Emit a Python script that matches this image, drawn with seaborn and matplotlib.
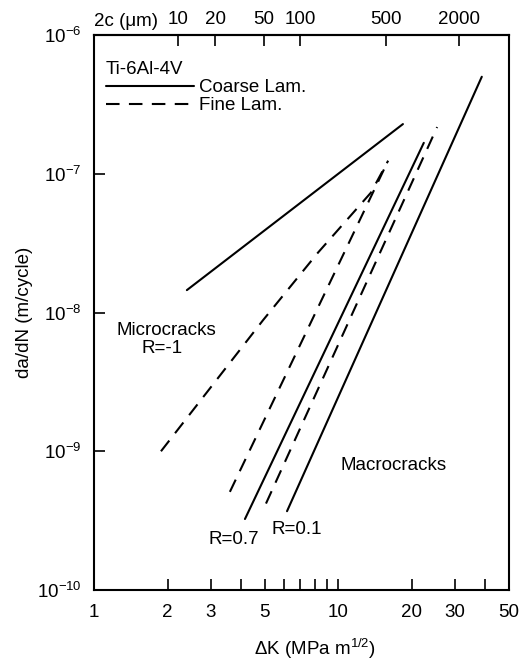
import numpy as np
import pandas as pd
import seaborn as sns
import matplotlib
matplotlib.use("Agg")
from matplotlib import pyplot as plt
from matplotlib.lines import Line2D
from matplotlib.ticker import FixedLocator, NullLocator, LogFormatterSciNotation

# crack growth curves, dK in MPa m^1/2, rate in m/cycle
coarse_micro_dk = [2.40, 18.4]
coarse_micro_rate = [1.45e-8, 2.28e-7]
fine_micro_dk = [1.88, 4.92, 8.26, 13.6, 16.0]
fine_micro_rate = [1.0e-9, 8.8e-9, 2.7e-8, 7.3e-8, 1.24e-7]

coarse_r07_dk = [4.15, 22.4]
coarse_r07_rate = [3.25e-10, 1.67e-7]
fine_r07_dk = [3.60, 16.0]
fine_r07_rate = [5.1e-10, 1.24e-7]

coarse_r01_dk = [6.17, 38.7]
coarse_r01_rate = [3.7e-10, 5.0e-7]
fine_r01_dk = [5.06, 25.4]
fine_r01_rate = [4.2e-10, 2.17e-7]

x_ticks = [1, 2, 3, 5, 10, 20, 30, 50]
x_minor_ticks = [4, 6, 7, 8, 9, 40]
y_ticks = [1e-10, 1e-9, 1e-8, 1e-7, 1e-6]
crack_ticks = [10, 20, 50, 100, 500, 2000]

curves = [
    ("micro coarse", "Coarse Lam.", coarse_micro_dk, coarse_micro_rate),
    ("micro fine", "Fine Lam.", fine_micro_dk, fine_micro_rate),
    ("R0.7 coarse", "Coarse Lam.", coarse_r07_dk, coarse_r07_rate),
    ("R0.7 fine", "Fine Lam.", fine_r07_dk, fine_r07_rate),
    ("R0.1 coarse", "Coarse Lam.", coarse_r01_dk, coarse_r01_rate),
    ("R0.1 fine", "Fine Lam.", fine_r01_dk, fine_r01_rate),
]
rows = []
for name, lam, dk, rate in curves:
    for k, r in zip(dk, rate):
        rows.append({"curve": name, "lam": lam, "dK": k, "rate": r})
df = pd.DataFrame(rows)

sns.set_style("white")
plt.rcParams["font.family"] = ["Liberation Sans", "DejaVu Sans"]
plt.rcParams["mathtext.fontset"] = "custom"
plt.rcParams["mathtext.rm"] = "Liberation Sans"
plt.rcParams["mathtext.it"] = "Liberation Sans:italic"
plt.rcParams["font.size"] = 13.5
for key in ["text.color", "axes.labelcolor", "xtick.color", "ytick.color", "axes.edgecolor"]:
    plt.rcParams[key] = "black"

FS = 13.5
DASH = (6.5, 4.5)

fig = plt.figure(figsize=(5.32, 6.6), dpi=100)
ax = fig.add_axes([0.1767, 0.106, 0.780, 0.841])

sns.lineplot(data=df, x="dK", y="rate", units="curve", style="lam",
             estimator=None, sort=False, color="black", linewidth=1.5,
             dashes={"Coarse Lam.": "", "Fine Lam.": DASH},
             legend=False, ax=ax)

ax.set_xscale("log")
ax.set_yscale("log")
ax.set_xlim(1, 50)
ax.set_ylim(1e-10, 1e-6)

for sp in ax.spines.values():
    sp.set_linewidth(1.5)
    sp.set_color("black")

ax.xaxis.set_major_locator(FixedLocator(x_ticks))
ax.set_xticklabels([str(t) for t in x_ticks])
ax.xaxis.set_minor_locator(FixedLocator(x_minor_ticks))
ax.tick_params(axis="x", which="both", direction="in", length=8, width=1.2,
               bottom=True, top=False, pad=10, labelsize=FS)
ax.tick_params(axis="x", which="minor", labelbottom=False)

ax.yaxis.set_major_locator(FixedLocator(y_ticks))
ax.yaxis.set_major_formatter(LogFormatterSciNotation())
ax.yaxis.set_minor_locator(NullLocator())
ax.tick_params(axis="y", which="major", direction="in", length=8, width=1.2,
               left=True, right=False, pad=9, labelsize=FS)

ax.set_xlabel("\u0394K (MPa m$^{1/2}$)", fontsize=FS)
ax.xaxis.set_label_coords(0.533, -0.085)
ax.set_ylabel("da/dN (m/cycle)", fontsize=FS)
ax.yaxis.set_label_coords(-0.147, 0.5)

# crack length scale on top: dK ~ 0.7 * sqrt(2c)
secax = ax.secondary_xaxis(
    "top",
    functions=(lambda k: (k / 0.7) ** 2, lambda c: 0.7 * np.sqrt(np.clip(c, 1e-12, None))),
)
secax.set_xticks(crack_ticks, labels=[str(t) for t in crack_ticks])
secax.xaxis.set_minor_locator(NullLocator())
secax.tick_params(axis="x", which="major", direction="in", length=8, width=1.2,
                  pad=5, labelsize=FS, colors="black")
secax.spines["top"].set_linewidth(1.5)
ax.text(0.0, 1.025, "2c (\u03bcm)", transform=ax.transAxes, ha="left", va="center", fontsize=FS)

# legend
handles = [
    Line2D([], [], color="black", lw=1.5, linestyle="-"),
    Line2D([], [], color="black", lw=1.5, linestyle=(0, DASH)),
]
leg = ax.legend(handles, ["Coarse Lam.", "Fine Lam."], title="Ti-6Al-4V",
                loc="upper left", bbox_to_anchor=(0.015, 0.963), frameon=False,
                handlelength=4.7, handletextpad=0.25, labelspacing=0.05,
                borderaxespad=0, borderpad=0.3, alignment="left",
                fontsize=FS, title_fontsize=FS)

# annotations
ax.text(1.24, 7.48e-9, "Microcracks", ha="left", va="center", fontsize=FS)
ax.text(1.90, 5.46e-9, "R=-1", ha="center", va="center", fontsize=FS)
ax.text(10.26, 7.96e-10, "Macrocracks", ha="left", va="center", fontsize=FS)
ax.text(2.93, 2.33e-10, "R=0.7", ha="left", va="center", fontsize=FS)
ax.text(5.35, 2.71e-10, "R=0.1", ha="left", va="center", fontsize=FS)

fig.savefig("out.png", dpi=100)
